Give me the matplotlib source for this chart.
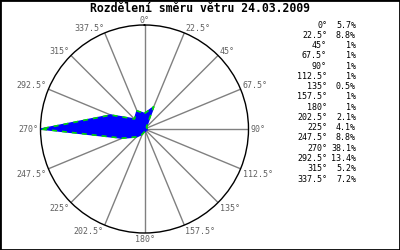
import numpy as np
import matplotlib
matplotlib.use("Agg")
import matplotlib.pyplot as plt

title = "Rozdělení směru větru 24.03.2009"
angles_deg = [0, 22.5, 45, 67.5, 90, 112.5, 135, 157.5, 180, 202.5, 225, 247.5, 270, 292.5, 315, 337.5]
angle_labels = ["0°", "22.5°", "45°", "67.5°", "90°", "112.5°", "135°", "157.5°", "180°",
                "202.5°", "225°", "247.5°", "270°", "292.5°", "315°", "337.5°"]
pct_labels = ["5.7%", "8.8%", "1%", "1%", "1%", "1%", "0.5%", "1%", "1%",
              "2.1%", "4.1%", "8.8%", "38.1%", "13.4%", "5.2%", "7.2%"]
values = [5.7, 8.8, 1, 1, 1, 1, 0.5, 1, 1, 2.1, 4.1, 8.8, 38.1, 13.4, 5.2, 7.2]

W, H = 400, 250
fig = plt.figure(figsize=(W / 100, H / 100), dpi=100)
fig.patch.set_facecolor("white")

mono = "DejaVu Sans Mono"
# polar axes: center (144.5,129) px, radius 104 px
cx, cy, R = 144.5, 129, 104
ax = fig.add_axes([(cx - R) / W, (H - cy - R) / H, 2 * R / W, 2 * R / H], projection="polar")
ax.set_theta_zero_location("N")
ax.set_theta_direction(-1)
rmax = max(values)
ax.set_yticks([])
ax.set_thetagrids(angles_deg, labels=[""] * len(angles_deg))
ax.set_ylim(0, rmax)
ax.xaxis.grid(True, color="#808080", linewidth=1.0, linestyle="-")
ax.yaxis.grid(False)
ax.spines["polar"].set_color("black")
ax.spines["polar"].set_linewidth(1.0)
ax.tick_params(axis="x", length=0)
ax.set_facecolor("white")

th = np.deg2rad(angles_deg + [angles_deg[0]])
rv = values + [values[0]]
ax.fill(th, rv, color="#0000ff", zorder=3)
ax.plot(th, rv, color="#00dd00", linestyle=(0, (3, 3)), linewidth=1.2, zorder=4)

# angle labels around the circle
for a, lab in zip(angles_deg, angle_labels):
    s, c = np.sin(np.deg2rad(a)), np.cos(np.deg2rad(a))
    ha = "left" if s > 0.1 else ("right" if s < -0.1 else "center")
    va = "center" if abs(c) < 0.1 else ("baseline" if c > 0 else "top")
    ax.text(np.deg2rad(a), rmax * 1.02, lab, ha=ha, va=va, fontsize=6,
            family=mono, color="#606060", clip_on=False)

fig.text(200 / W, 1 - 12.5 / H, title, ha="center", va="baseline", fontsize=8.3,
         family=mono, fontweight="bold", color="black")

y0, dy = 25, 10.27
for i, (al, pl) in enumerate(zip(angle_labels, pct_labels)):
    y = 1 - (y0 + i * dy) / H
    fig.text(327 / W, y, al, ha="right", va="center", fontsize=6, family=mono, color="black")
    fig.text(356 / W, y, pl, ha="right", va="center", fontsize=6, family=mono, color="black")

border = plt.Rectangle((0, 0), 1, 1, transform=fig.transFigure, fill=False,
                       edgecolor="black", linewidth=2)
fig.patches.append(border)

fig.savefig("out.png", dpi=100)
